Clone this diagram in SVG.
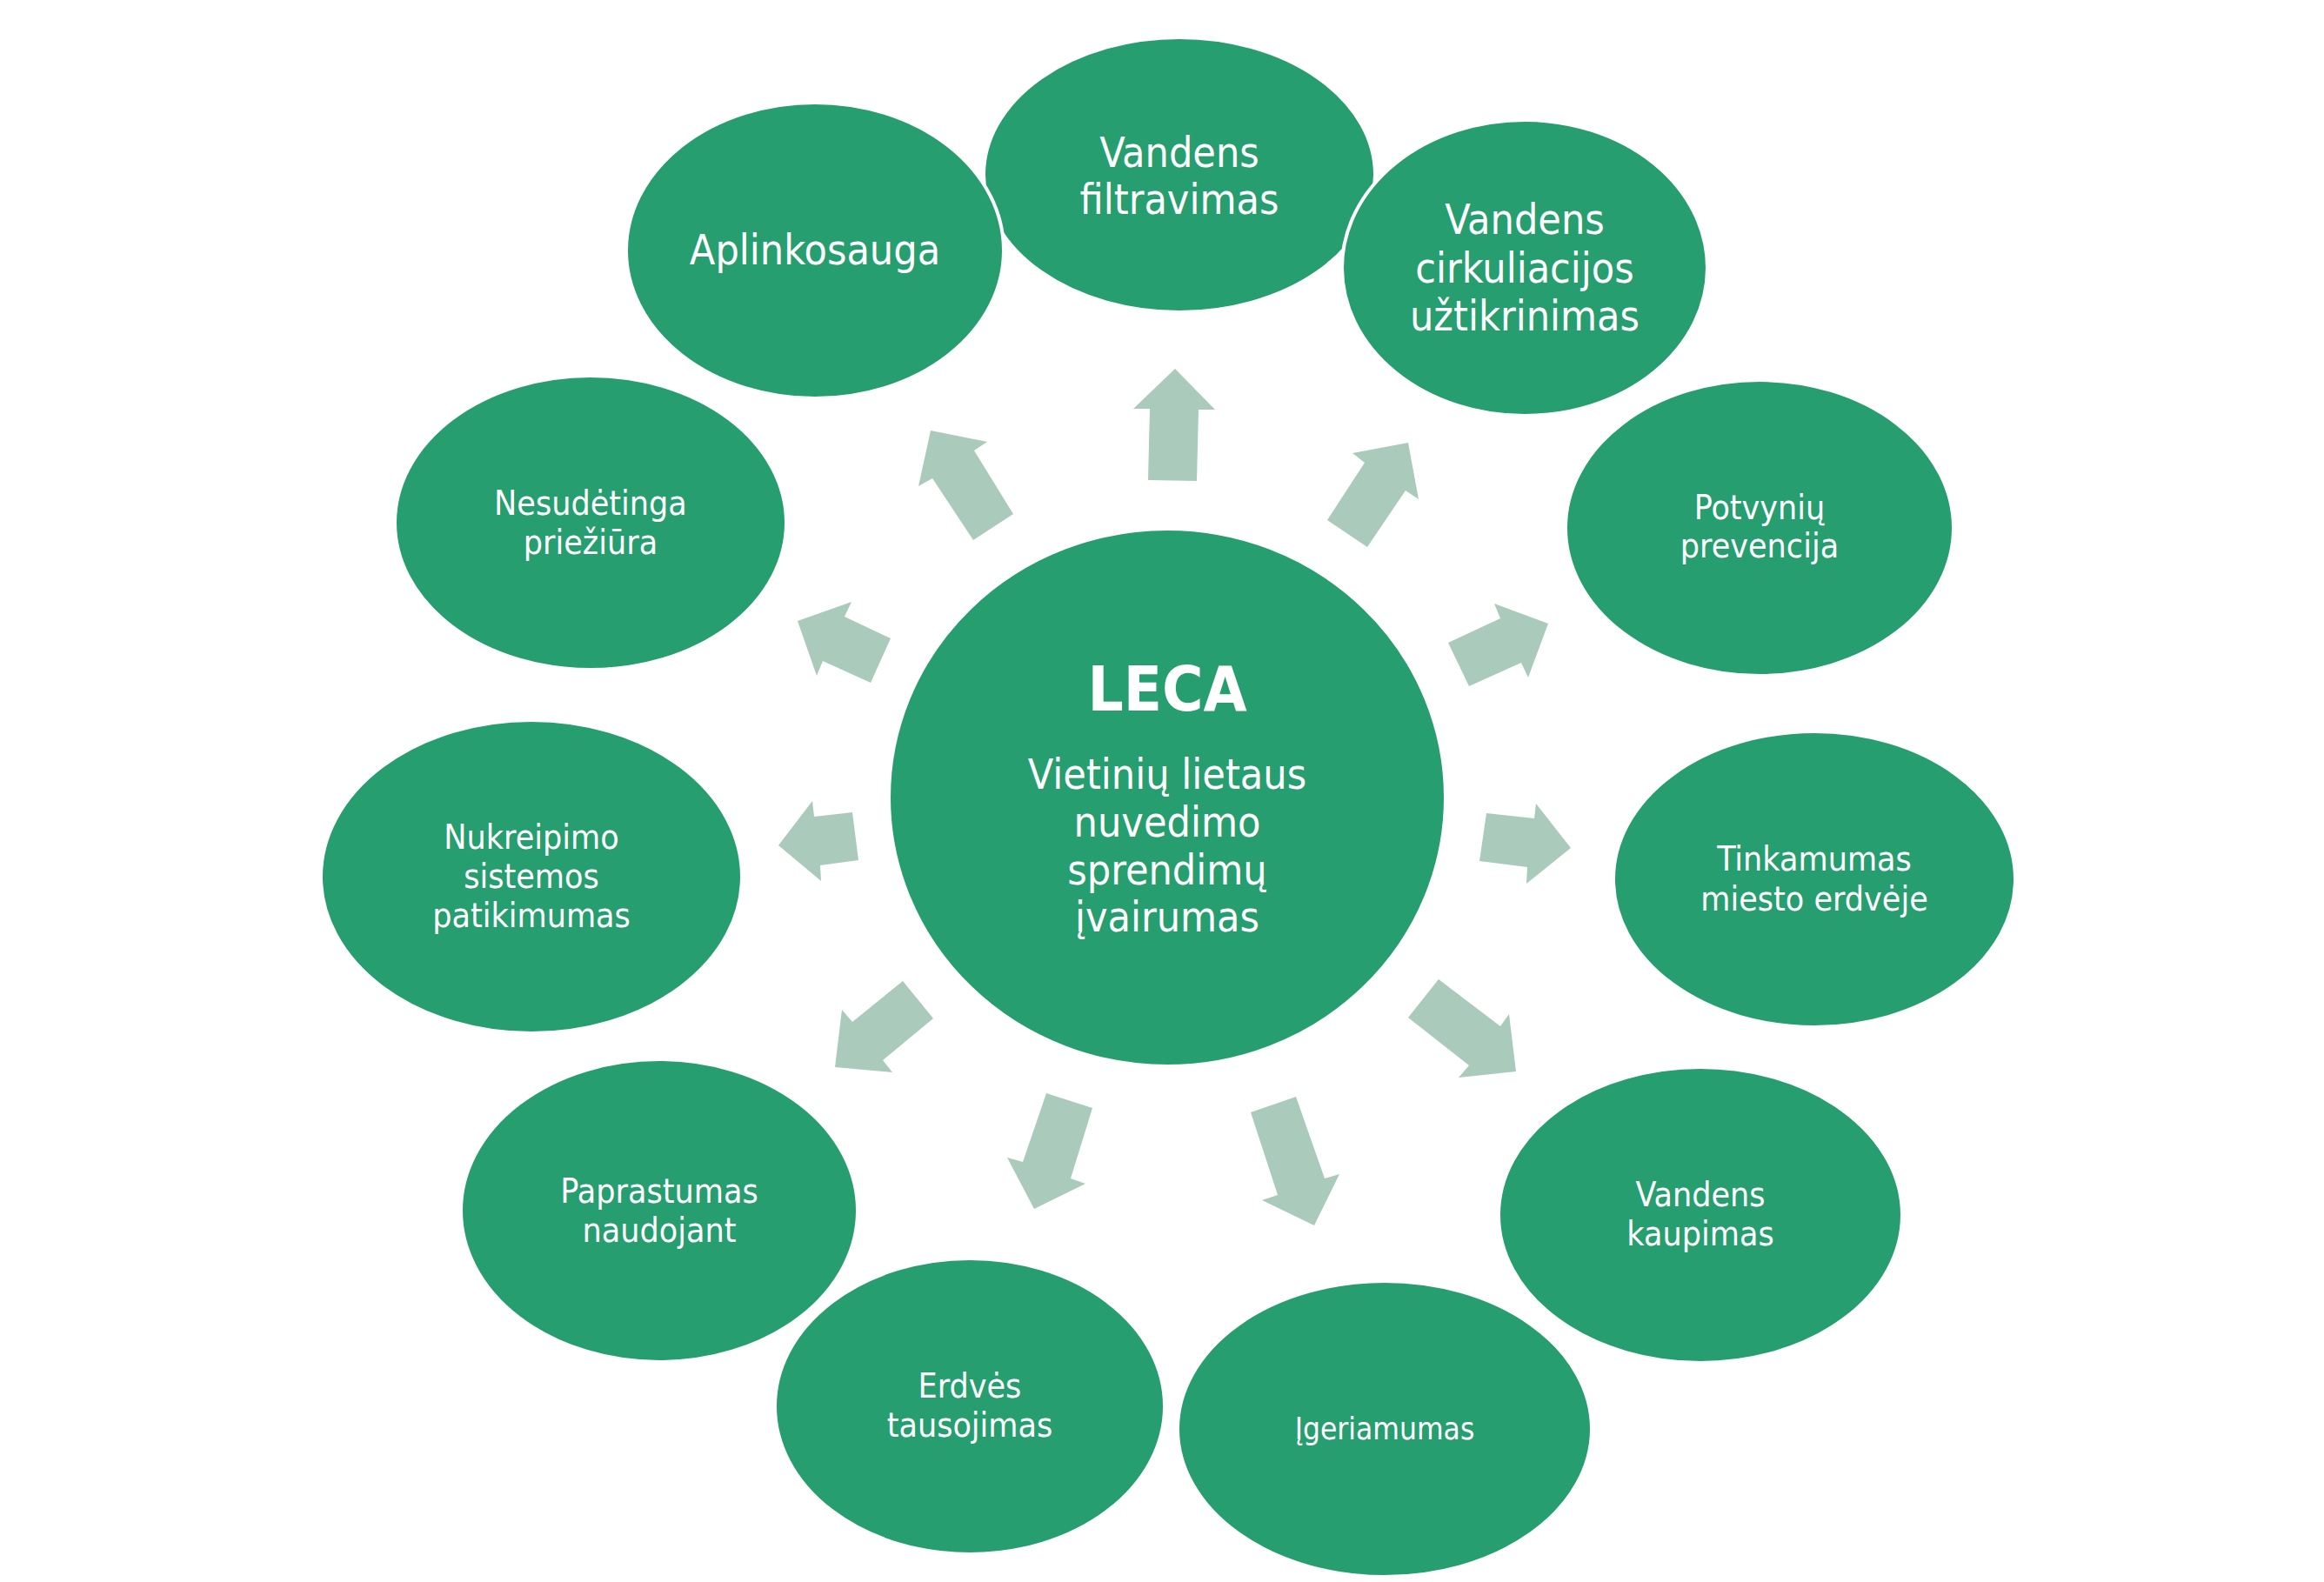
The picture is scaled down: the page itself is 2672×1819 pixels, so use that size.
<svg xmlns="http://www.w3.org/2000/svg" width="2672" height="1819" viewBox="0 0 2672 1819">
<style>
.node{fill:#269E6F;stroke:#FFFFFF;stroke-width:4}
.arr{fill:#AACBBB}
text{font-family:"DejaVu Sans Condensed","DejaVu Sans",sans-serif;font-stretch:condensed;fill:#FFFFFF;text-anchor:middle}
.lg{font-size:48px}
.sm{font-size:39px}
.xs{font-size:35px}
.b{font-weight:bold;font-size:72px}
</style>
<rect width="2672" height="1819" fill="#FFFFFF"/>
<g id="n-filtravimas"><ellipse class="node" cx="1356" cy="201" rx="225" ry="158"/><text class="lg"><tspan x="1356" y="192">Vandens</tspan><tspan x="1356" y="246">filtravimas</tspan></text></g>
<g id="n-aplinkosauga"><ellipse class="node" cx="937" cy="288" rx="217" ry="170"/><text class="lg" x="937" y="304">Aplinkosauga</text></g>
<g id="n-cirkuliacija"><ellipse class="node" cx="1753" cy="308" rx="210" ry="170"/><text class="lg"><tspan x="1753" y="269">Vandens</tspan><tspan x="1753" y="325">cirkuliacijos</tspan><tspan x="1753" y="380">užtikrinimas</tspan></text></g>
<g id="n-potvyniai"><ellipse class="node" cx="2023" cy="607" rx="223" ry="170"/><text class="sm"><tspan x="2023" y="597">Potvynių</tspan><tspan x="2023" y="641">prevencija</tspan></text></g>
<g id="n-tinkamumas"><ellipse class="node" cx="2086" cy="1011" rx="231" ry="170"/><text class="sm"><tspan x="2086" y="1001">Tinkamumas</tspan><tspan x="2086" y="1047">miesto erdvėje</tspan></text></g>
<g id="n-kaupimas"><ellipse class="node" cx="1955" cy="1397" rx="232" ry="170"/><text class="sm"><tspan x="1955" y="1387">Vandens</tspan><tspan x="1955" y="1432">kaupimas</tspan></text></g>
<g id="n-igeriamumas"><ellipse class="node" cx="1592" cy="1643" rx="238" ry="170"/><text class="xs" x="1592" y="1655">Įgeriamumas</text></g>
<g id="n-erdves"><ellipse class="node" cx="1115" cy="1617" rx="224" ry="170"/><text class="sm"><tspan x="1115" y="1607">Erdvės</tspan><tspan x="1115" y="1652">tausojimas</tspan></text></g>
<g id="n-paprastumas"><ellipse class="node" cx="758" cy="1392" rx="228" ry="174"/><text class="sm"><tspan x="758" y="1383">Paprastumas</tspan><tspan x="758" y="1428">naudojant</tspan></text></g>
<g id="n-nukreipimas"><ellipse class="node" cx="611" cy="1008" rx="242" ry="180"/><text class="sm"><tspan x="611" y="976">Nukreipimo</tspan><tspan x="611" y="1021">sistemos</tspan><tspan x="611" y="1066">patikimumas</tspan></text></g>
<g id="n-prieziura"><ellipse class="node" cx="679" cy="601" rx="225" ry="169"/><text class="sm"><tspan x="679" y="592">Nesudėtinga</tspan><tspan x="679" y="637">priežiūra</tspan></text></g>
<g id="n-leca"><ellipse class="node" cx="1342" cy="917" rx="320" ry="309"/><text class="b" x="1342" y="817">LECA</text><text class="lg"><tspan x="1342" y="907">Vietinių lietaus</tspan><tspan x="1342" y="962">nuvedimo</tspan><tspan x="1342" y="1017">sprendimų</tspan><tspan x="1342" y="1071">įvairumas</tspan></text></g>
<g id="connectors">
<polygon class="arr" points="1320,552 1322,470 1303,470 1351,424 1397,471 1378,471 1376,553"/>
<polygon class="arr" points="1165,591 1120,518 1135,508 1070,495 1056,559 1072,550 1119,621"/>
<polygon class="arr" points="1526,598 1569,532 1555,521 1619,509 1631,574 1616,564 1572,629"/>
<polygon class="arr" points="1024,734 971,709 979,692 917,714 939,777 946,760 1001,785"/>
<polygon class="arr" points="1665,739 1725,711 1718,694 1780,717 1757,779 1749,762 1689,789"/>
<polygon class="arr" points="980,934 936,939 934,921 895,972 944,1013 943,995 987,989"/>
<polygon class="arr" points="1709,935 1764,941 1766,924 1806,975 1755,1016 1756,997 1701,990"/>
<polygon class="arr" points="1038,1128 980,1175 968,1161 960,1227 1026,1233 1015,1219 1073,1171"/>
<polygon class="arr" points="1654,1126 1725,1180 1735,1166 1743,1232 1677,1239 1689,1225 1619,1170"/>
<polygon class="arr" points="1203,1257 1176,1336 1158,1331 1189,1390 1248,1361 1231,1355 1256,1274"/>
<polygon class="arr" points="1438,1279 1469,1374 1451,1380 1511,1409 1540,1350 1523,1355 1490,1261"/>
</g>
</svg>
